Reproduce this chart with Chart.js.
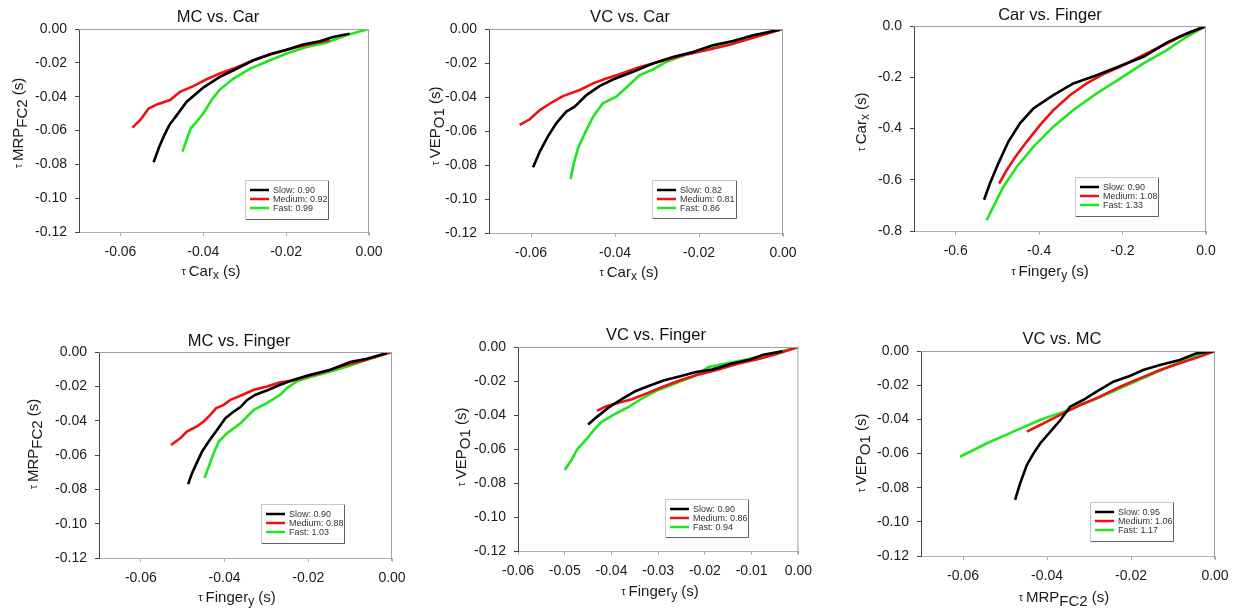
<!DOCTYPE html>
<html>
<head>
<meta charset="utf-8">
<script src="https://cdn.jsdelivr.net/npm/chart.js@4"></script>
<style>
  html, body { margin: 0; padding: 0; background: #fff; }
  #wrap { position: relative; width: 1238px; height: 611px; overflow: hidden; }
  #wrap canvas { position: absolute; }
</style>
</head>
<body>
<div id="wrap"></div>
<script>
// speed conditions, one curve each
const speeds = ["Slow", "Medium", "Fast"];

// tau lag pairs [x, y] in seconds
const mcCarSlow = [[-0.052,-0.0788],[-0.0506,-0.0695],[-0.0494,-0.0627],[-0.0482,-0.0568],[-0.0464,-0.0509],[-0.044,-0.043],[-0.04,-0.0346],[-0.036,-0.0283],[-0.0327,-0.0244],[-0.0279,-0.0185],[-0.0239,-0.0149],[-0.0199,-0.0122],[-0.0159,-0.0092],[-0.0119,-0.0073],[-0.0087,-0.0047],[-0.0047,-0.0028]];
const mcCarMedium = [[-0.0571,-0.0583],[-0.0552,-0.0538],[-0.0532,-0.047],[-0.0512,-0.0446],[-0.048,-0.042],[-0.0456,-0.0371],[-0.0424,-0.0338],[-0.0392,-0.0297],[-0.036,-0.0263],[-0.0327,-0.0234],[-0.0279,-0.0185],[-0.0231,-0.0145],[-0.0183,-0.0112],[-0.0135,-0.0086],[-0.0095,-0.0067]];
const mcCarFast = [[-0.045,-0.0725],[-0.044,-0.0652],[-0.043,-0.0587],[-0.0416,-0.0548],[-0.04,-0.0499],[-0.038,-0.042],[-0.036,-0.0358],[-0.0327,-0.0293],[-0.0287,-0.0234],[-0.0247,-0.0194],[-0.0199,-0.0145],[-0.0151,-0.0106],[-0.0103,-0.0081],[-0.0055,-0.0037],[0,0]];
const mcCarR = [0.90, 0.92, 0.99];

const vcCarSlow = [[-0.0595,-0.0813],[-0.0579,-0.0721],[-0.056,-0.0633],[-0.054,-0.0555],[-0.0516,-0.0486],[-0.0496,-0.0457],[-0.0468,-0.0389],[-0.0437,-0.0336],[-0.0405,-0.0297],[-0.0357,-0.0252],[-0.031,-0.0203],[-0.0262,-0.0164],[-0.0214,-0.0135],[-0.0167,-0.0096],[-0.0119,-0.007],[-0.0071,-0.0037],[-0.0008,-0.0004]];
const vcCarMedium = [[-0.0627,-0.0564],[-0.0603,-0.0531],[-0.0579,-0.0477],[-0.0548,-0.0428],[-0.0524,-0.0395],[-0.0484,-0.0359],[-0.0452,-0.032],[-0.0421,-0.0291],[-0.0389,-0.0266],[-0.0341,-0.0223],[-0.0294,-0.0193],[-0.0238,-0.0154],[-0.0183,-0.0125],[-0.0127,-0.0092],[-0.0071,-0.0051],[0,0]];
const vcCarFast = [[-0.0506,-0.0883],[-0.0498,-0.0789],[-0.0488,-0.0701],[-0.0472,-0.0613],[-0.0452,-0.0516],[-0.0429,-0.0437],[-0.0397,-0.0398],[-0.0373,-0.0344],[-0.0341,-0.0271],[-0.031,-0.0238],[-0.0278,-0.0193],[-0.023,-0.015],[-0.0183,-0.0119],[-0.0127,-0.008],[-0.0071,-0.0047],[0,0]];
const vcCarR = [0.82, 0.81, 0.86];

const carFingerSlow = [[-0.532,-0.678],[-0.518,-0.615],[-0.498,-0.537],[-0.474,-0.452],[-0.446,-0.38],[-0.414,-0.322],[-0.366,-0.27],[-0.318,-0.224],[-0.262,-0.192],[-0.206,-0.156],[-0.15,-0.12],[-0.094,-0.065],[-0.046,-0.029],[0,0]];
const carFingerMedium = [[-0.496,-0.615],[-0.478,-0.563],[-0.454,-0.504],[-0.43,-0.452],[-0.398,-0.387],[-0.366,-0.328],[-0.326,-0.27],[-0.286,-0.224],[-0.246,-0.188],[-0.206,-0.159],[-0.158,-0.12],[-0.11,-0.081],[-0.062,-0.042],[0,0]];
const carFingerFast = [[-0.526,-0.758],[-0.51,-0.706],[-0.486,-0.628],[-0.454,-0.55],[-0.414,-0.472],[-0.366,-0.393],[-0.318,-0.328],[-0.262,-0.263],[-0.206,-0.205],[-0.15,-0.146],[-0.094,-0.094],[-0.046,-0.042],[0,0]];
const carFingerR = [0.90, 1.08, 1.33];

const mcFingerSlow = [[-0.0487,-0.077],[-0.0478,-0.0707],[-0.0467,-0.0649],[-0.0454,-0.0581],[-0.0438,-0.0522],[-0.0418,-0.0454],[-0.0398,-0.0386],[-0.0378,-0.0347],[-0.0362,-0.0321],[-0.0346,-0.0279],[-0.0326,-0.0249],[-0.0299,-0.0224],[-0.0267,-0.0191],[-0.0235,-0.0162],[-0.0195,-0.0132],[-0.0147,-0.0103],[-0.01,-0.0058],[-0.006,-0.0039],[-0.0012,-0.0006]];
const mcFingerMedium = [[-0.0528,-0.0542],[-0.0506,-0.0503],[-0.049,-0.0464],[-0.0466,-0.0434],[-0.045,-0.0405],[-0.0434,-0.0366],[-0.042,-0.0327],[-0.0402,-0.0308],[-0.0386,-0.0279],[-0.0362,-0.0255],[-0.033,-0.022],[-0.0299,-0.0201],[-0.0267,-0.0177],[-0.0235,-0.0166],[-0.0203,-0.0142],[-0.0171,-0.0123],[-0.0123,-0.0084],[-0.0076,-0.0055],[0,0]];
const mcFingerFast = [[-0.0448,-0.0733],[-0.0438,-0.0668],[-0.0426,-0.059],[-0.0414,-0.0522],[-0.0394,-0.0473],[-0.0362,-0.0415],[-0.033,-0.0337],[-0.0299,-0.0298],[-0.0267,-0.0249],[-0.0251,-0.021],[-0.0227,-0.0171],[-0.0195,-0.0146],[-0.0155,-0.0119],[-0.0107,-0.0084],[-0.006,-0.0045],[0,0]];
const mcFingerR = [0.90, 0.88, 1.03];

const vcFingerSlow = [[-0.045,-0.0456],[-0.0431,-0.0411],[-0.0404,-0.0352],[-0.0376,-0.0303],[-0.0349,-0.026],[-0.0322,-0.0231],[-0.0287,-0.0196],[-0.0253,-0.0172],[-0.0219,-0.0147],[-0.0185,-0.0133],[-0.0144,-0.0098],[-0.0103,-0.0074],[-0.0075,-0.0045],[-0.0034,-0.0025]];
const vcFingerMedium = [[-0.0431,-0.0376],[-0.0411,-0.0348],[-0.0383,-0.0327],[-0.0356,-0.0307],[-0.0322,-0.027],[-0.0287,-0.0231],[-0.0253,-0.0196],[-0.0212,-0.0161],[-0.0171,-0.0133],[-0.013,-0.0098],[-0.0089,-0.0074],[-0.0048,-0.0043],[0,0]];
const vcFingerFast = [[-0.05,-0.0724],[-0.0486,-0.0666],[-0.0472,-0.0597],[-0.0452,-0.0538],[-0.0438,-0.0489],[-0.0421,-0.044],[-0.0397,-0.0401],[-0.0363,-0.0352],[-0.0335,-0.0303],[-0.0301,-0.0254],[-0.026,-0.0211],[-0.0226,-0.0176],[-0.0192,-0.0117],[-0.015,-0.0094],[-0.0103,-0.0069],[-0.0055,-0.0039],[0,0]];
const vcFingerR = [0.90, 0.86, 0.94];

const vcMcSlow = [[-0.0476,-0.0872],[-0.0464,-0.0775],[-0.0448,-0.0667],[-0.0432,-0.0599],[-0.0416,-0.054],[-0.0392,-0.0472],[-0.0368,-0.0404],[-0.0345,-0.0326],[-0.0314,-0.0287],[-0.0282,-0.0238],[-0.0242,-0.018],[-0.0203,-0.0146],[-0.0171,-0.0111],[-0.0131,-0.0082],[-0.0084,-0.0053],[-0.0044,-0.0014],[0,0]];
const vcMcMedium = [[-0.0448,-0.0472],[-0.0416,-0.0433],[-0.0385,-0.0394],[-0.0353,-0.0355],[-0.0321,-0.0316],[-0.0274,-0.0267],[-0.0226,-0.0209],[-0.0179,-0.016],[-0.0131,-0.0111],[-0.0084,-0.0072],[-0.0036,-0.0033],[0,0]];
const vcMcFast = [[-0.0607,-0.0619],[-0.0543,-0.054],[-0.048,-0.0472],[-0.0417,-0.0404],[-0.0353,-0.0349],[-0.029,-0.0287],[-0.0226,-0.0219],[-0.0163,-0.015],[-0.01,-0.0082],[-0.0044,-0.0029],[0,0]];
const vcMcR = [0.95, 1.06, 1.17];

// tick values
const lagTicks = [-0.06, -0.04, -0.02, 0];
const lagTicksFine = [-0.06, -0.05, -0.04, -0.03, -0.02, -0.01, 0];
const lagTicksY = [-0.12, -0.10, -0.08, -0.06, -0.04, -0.02, 0];
const carFingerTicksX = [-0.6, -0.4, -0.2, 0];
const carFingerTicksY = [-0.8, -0.6, -0.4, -0.2, 0];

const lineColors = ["#000000", "#f01010", "#20e620"];
const FONT = "'Liberation Sans', Arial, sans-serif";
Chart.defaults.font.family = FONT;

// axis label pieces: [text, size, baseline shift]
const tau = ["\u03c4 ", 11, 0];
const lbl = {
  carX: [tau, ["Car", 15, 0], ["x", 12, 4], [" (s)", 15, 0]],
  fingerY: [tau, ["Finger", 15, 0], ["y", 12, 4], [" (s)", 15, 0]],
  mrp: [tau, ["MRP", 15, 0], ["FC2", 15, 4], [" (s)", 15, 0]],
  vep: [tau, ["VEP", 15, 0], ["O1", 15, 4], [" (s)", 15, 0]]
};

// page positions: box = canvas, plot = axes rectangle, others are centres / legend rect
const panels = [
  { title: "MC vs. Car", series: [mcCarSlow, mcCarMedium, mcCarFast], r: mcCarR,
    box: [0, 0, 400, 300], plot: [79, 29, 369, 232], xMin: -0.07, yMin: -0.12,
    xTicks: lagTicks, yTicks: lagTicksY, dec: 2, xLabel: lbl.carX, yLabel: lbl.mrp,
    titleAt: [218, 17], xLabelAt: [211, 272], yLabelAt: [19, 123], legend: [245, 180, 83, 39] },
  { title: "VC vs. Car", series: [vcCarSlow, vcCarMedium, vcCarFast], r: vcCarR,
    box: [400, 0, 420, 300], plot: [489, 29, 783, 233], xMin: -0.07, yMin: -0.12,
    xTicks: lagTicks, yTicks: lagTicksY, dec: 2, xLabel: lbl.carX, yLabel: lbl.vep,
    titleAt: [630, 17], xLabelAt: [629, 273], yLabelAt: [436, 126], legend: [652, 180, 84, 38] },
  { title: "Car vs. Finger", series: [carFingerSlow, carFingerMedium, carFingerFast], r: carFingerR,
    box: [820, 0, 418, 300], plot: [914, 26, 1206, 231], xMin: -0.7, yMin: -0.8,
    xTicks: carFingerTicksX, yTicks: carFingerTicksY, dec: 1, xLabel: lbl.fingerY, yLabel: lbl.carX,
    titleAt: [1050, 15], xLabelAt: [1050, 272], yLabelAt: [862, 122], legend: [1075, 177, 83, 39] },
  { title: "MC vs. Finger", series: [mcFingerSlow, mcFingerMedium, mcFingerFast], r: mcFingerR,
    box: [0, 305, 420, 306], plot: [99, 352, 392, 558], xMin: -0.07, yMin: -0.12,
    xTicks: lagTicks, yTicks: lagTicksY, dec: 2, xLabel: lbl.fingerY, yLabel: lbl.mrp,
    titleAt: [239, 341], xLabelAt: [237, 598], yLabelAt: [34, 444], legend: [261, 504, 83, 39] },
  { title: "VC vs. Finger", series: [vcFingerSlow, vcFingerMedium, vcFingerFast], r: vcFingerR,
    box: [420, 305, 400, 306], plot: [518, 347, 810, 551], xMin: -0.06, yMin: -0.12,
    xTicks: lagTicksFine, yTicks: lagTicksY, dec: 2, xLabel: lbl.fingerY, yLabel: lbl.vep,
    titleAt: [656, 335], xLabelAt: [660, 592], yLabelAt: [462, 447], legend: [665, 499, 83, 38] },
  { title: "VC vs. MC", series: [vcMcSlow, vcMcMedium, vcMcFast], r: vcMcR,
    box: [820, 305, 418, 306], plot: [921, 351, 1215, 556], xMin: -0.07, yMin: -0.12,
    xTicks: lagTicks, yTicks: lagTicksY, dec: 2, xLabel: lbl.mrp, yLabel: lbl.vep,
    titleAt: [1062, 339], xLabelAt: [1064, 598], yLabelAt: [862, 453], legend: [1090, 502, 83, 39] }
];

function drawRich(ctx, parts, cx, cy, rotate) {
  ctx.save();
  ctx.translate(cx, cy);
  if (rotate) ctx.rotate(-Math.PI / 2);
  let total = 0;
  const widths = parts.map(p => {
    ctx.font = p[1] + "px " + FONT;
    const w = ctx.measureText(p[0]).width;
    total += w;
    return w;
  });
  ctx.textBaseline = "middle";
  ctx.textAlign = "left";
  ctx.fillStyle = "#1a1a1a";
  let x = -total / 2;
  parts.forEach((p, i) => {
    ctx.font = p[1] + "px " + FONT;
    ctx.fillText(p[0], x, p[2]);
    x += widths[i];
  });
  ctx.restore();
}

// title, axis titles, the y=0 / x=0 frame lines and the boxed legend
const panelDecor = {
  id: "panelDecor",
  afterDraw(chart, args, p) {
    const ctx = chart.ctx;
    const ox = p.box[0], oy = p.box[1];
    const a = chart.chartArea;

    ctx.save();
    ctx.lineWidth = 1;
    ctx.strokeStyle = "#a0a0a0";
    ctx.beginPath();
    ctx.moveTo(a.left, a.top + 0.5);
    ctx.lineTo(a.right, a.top + 0.5);
    ctx.moveTo(a.right - 0.5, a.top);
    ctx.lineTo(a.right - 0.5, a.bottom + 3);
    ctx.stroke();

    ctx.font = "16.5px " + FONT;
    ctx.fillStyle = "#111";
    ctx.textAlign = "center";
    ctx.textBaseline = "middle";
    ctx.fillText(p.title, p.titleAt[0] - ox, p.titleAt[1] - oy);

    drawRich(ctx, p.xLabel, p.xLabelAt[0] - ox, p.xLabelAt[1] - oy, false);
    drawRich(ctx, p.yLabel, p.yLabelAt[0] - ox, p.yLabelAt[1] - oy, true);

    // legend box
    const lx = p.legend[0] - ox, ly = p.legend[1] - oy, lw = p.legend[2], lh = p.legend[3];
    ctx.fillStyle = "#fff";
    ctx.fillRect(lx, ly, lw, lh);
    ctx.strokeStyle = "#c8c8c8";
    ctx.strokeRect(lx + 0.5, ly + 0.5, lw, lh);
    ctx.strokeStyle = "#606060";
    ctx.beginPath();
    ctx.moveTo(lx + lw + 0.5, ly + 1);
    ctx.lineTo(lx + lw + 0.5, ly + lh + 0.5);
    ctx.lineTo(lx + 1, ly + lh + 0.5);
    ctx.stroke();

    ctx.font = "9px " + FONT;
    ctx.textAlign = "left";
    ctx.textBaseline = "middle";
    chart.data.datasets.forEach((ds, i) => {
      const ry = ly + 10 + i * 9;
      ctx.strokeStyle = ds.borderColor;
      ctx.lineWidth = 2.5;
      ctx.beginPath();
      ctx.moveTo(lx + 5, ry);
      ctx.lineTo(lx + 24, ry);
      ctx.stroke();
      ctx.fillStyle = "#333";
      ctx.fillText(ds.label, lx + 28, ry + 0.5);
    });
    ctx.restore();
  }
};

const wrap = document.getElementById("wrap");

panels.forEach(p => {
  const [bx, by, bw, bh] = p.box;
  const [px0, py0, px1, py1] = p.plot;
  const canvas = document.createElement("canvas");
  canvas.width = bw;
  canvas.height = bh;
  canvas.style.left = bx + "px";
  canvas.style.top = by + "px";
  canvas.style.width = bw + "px";
  canvas.style.height = bh + "px";
  wrap.appendChild(canvas);

  const fmt = v => v.toFixed(p.dec);

  new Chart(canvas.getContext("2d"), {
    type: "scatter",
    data: {
      datasets: p.series.map((pts, i) => ({
        label: speeds[i] + ": " + p.r[i].toFixed(2),
        data: pts.map(d => ({ x: d[0], y: d[1] })),
        showLine: true,
        borderColor: lineColors[i],
        backgroundColor: lineColors[i],
        borderWidth: 2.6,
        pointRadius: 0,
        tension: 0
      }))
    },
    options: {
      responsive: false,
      animation: false,
      devicePixelRatio: 1,
      layout: { padding: { top: py0 - by, right: bx + bw - px1, bottom: 0, left: 0 } },
      plugins: {
        legend: { display: false },
        tooltip: { enabled: false },
        panelDecor: p
      },
      scales: {
        x: {
          type: "linear",
          min: p.xMin,
          max: 0,
          afterBuildTicks: s => { s.ticks = p.xTicks.map(v => ({ value: v })); },
          afterFit: s => { s.height = by + bh - py1; },
          ticks: { callback: v => fmt(v), color: "#1a1a1a", font: { size: 14 }, padding: 8, maxRotation: 0 },
          grid: { drawOnChartArea: false, drawTicks: true, tickLength: 4, color: "#b0b0b0" },
          border: { display: true, color: "#b0b0b0", width: 1 }
        },
        y: {
          type: "linear",
          min: p.yMin,
          max: 0,
          afterBuildTicks: s => { s.ticks = p.yTicks.map(v => ({ value: v })); },
          afterFit: s => { s.width = px0 - bx; },
          ticks: { callback: v => fmt(v), color: "#1a1a1a", font: { size: 14 }, padding: 8 },
          grid: { drawOnChartArea: false, drawTicks: true, tickLength: 4, color: "#444" },
          border: { display: true, color: "#444", width: 1 }
        }
      }
    },
    plugins: [panelDecor]
  });
});
</script>
</body>
</html>
